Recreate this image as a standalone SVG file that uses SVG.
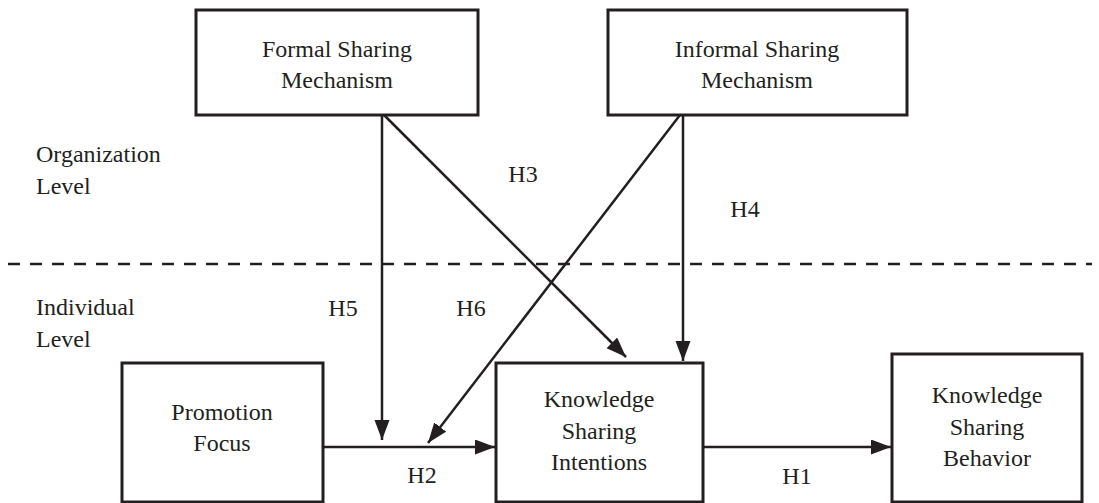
<svg xmlns="http://www.w3.org/2000/svg" width="1099" height="503" viewBox="0 0 1099 503">
<style>
.box{fill:#fff;stroke:#231f20;stroke-width:3}
.t{font-family:"Liberation Serif","Times New Roman",serif;font-size:24px;fill:#231f20}
.c{text-anchor:middle}
.ln{stroke:#231f20;stroke-width:2.5;fill:none}
.ar{marker-end:url(#ah)}
</style>
<defs>
<marker id="ah" markerUnits="userSpaceOnUse" markerWidth="22" markerHeight="16" refX="20" refY="7.5" orient="auto" viewBox="0 0 22 16">
<path d="M0,0 L20,7.5 L0,15 z" fill="#231f20"/>
</marker>
</defs>
<rect width="1099" height="503" fill="#fff"/>
<g id="connectors">
<line class="ln" x1="8" y1="264" x2="1092" y2="264" stroke-dasharray="12 10"/>
<line class="ln ar" x1="323" y1="447" x2="495" y2="447"/>
<line class="ln ar" x1="703" y1="447" x2="891" y2="447"/>
<line class="ln ar" x1="382" y1="115" x2="382" y2="440"/>
<line class="ln ar" x1="384" y1="115" x2="626" y2="357"/>
<line class="ln ar" x1="680" y1="115" x2="428" y2="443"/>
<line class="ln ar" x1="683" y1="115" x2="683" y2="361"/>
</g>
<g id="formal">
<rect class="box" x="196" y="10" width="282" height="105"/>
<text class="t c" x="337" y="57">Formal Sharing</text>
<text class="t c" x="337" y="88">Mechanism</text>
</g>
<g id="informal">
<rect class="box" x="608" y="10" width="299" height="105"/>
<text class="t c" x="757" y="57">Informal Sharing</text>
<text class="t c" x="757" y="88">Mechanism</text>
</g>
<g id="promotion">
<rect class="box" x="122" y="363" width="201" height="139"/>
<text class="t c" x="222" y="420">Promotion</text>
<text class="t c" x="222" y="451">Focus</text>
</g>
<g id="ksi">
<rect class="box" x="496" y="363" width="207" height="139"/>
<text class="t c" x="599" y="407">Knowledge</text>
<text class="t c" x="599" y="439">Sharing</text>
<text class="t c" x="599" y="470">Intentions</text>
</g>
<g id="ksb">
<rect class="box" x="892" y="354" width="190" height="148"/>
<text class="t c" x="987" y="403">Knowledge</text>
<text class="t c" x="987" y="435">Sharing</text>
<text class="t c" x="987" y="466">Behavior</text>
</g>
<g id="labels">
<text class="t" x="36" y="162">Organization</text>
<text class="t" x="36" y="194">Level</text>
<text class="t" x="36" y="315">Individual</text>
<text class="t" x="36" y="347">Level</text>
<text class="t c" x="523" y="182">H3</text>
<text class="t c" x="745" y="217">H4</text>
<text class="t c" x="343" y="316">H5</text>
<text class="t c" x="471" y="316">H6</text>
<text class="t c" x="422" y="483">H2</text>
<text class="t c" x="797" y="484">H1</text>
</g>
</svg>
